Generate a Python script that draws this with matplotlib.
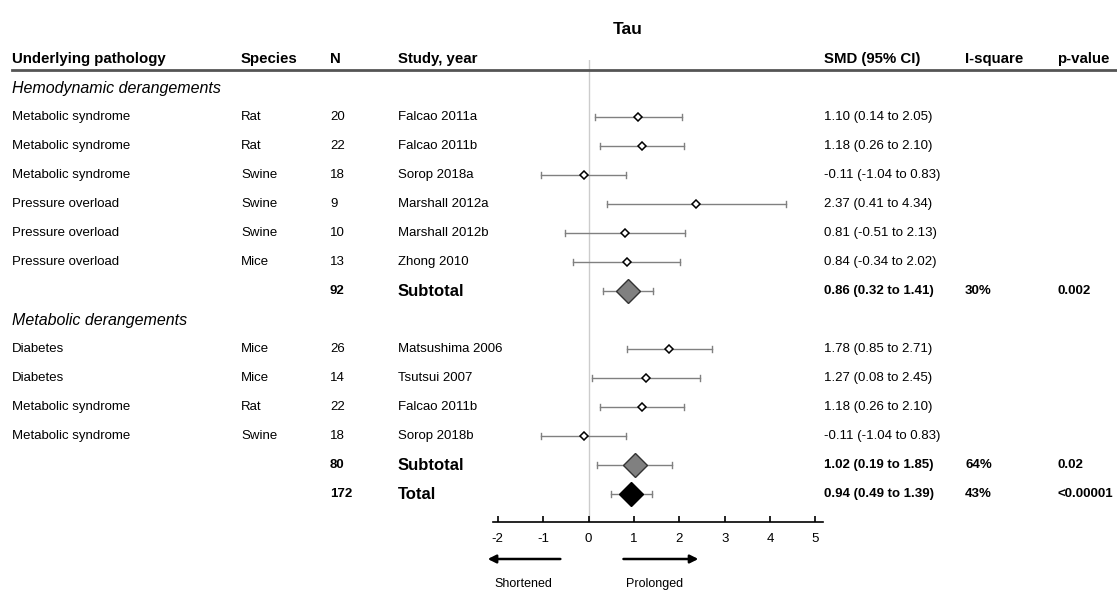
import matplotlib.pyplot as plt
import matplotlib.transforms as mtransforms

plt.rcParams['font.family'] = ['Liberation Sans', 'DejaVu Sans']
plt.rcParams['axes.unicode_minus'] = False

# study rows: pathology, species, N, study, SMD, lower, upper
groups = ['Hemodynamic derangements', 'Metabolic derangements']
pathology = [['Metabolic syndrome', 'Metabolic syndrome', 'Metabolic syndrome',
              'Pressure overload', 'Pressure overload', 'Pressure overload'],
             ['Diabetes', 'Diabetes', 'Metabolic syndrome', 'Metabolic syndrome']]
species = [['Rat', 'Rat', 'Swine', 'Swine', 'Swine', 'Mice'],
           ['Mice', 'Mice', 'Rat', 'Swine']]
n_animals = [[20, 22, 18, 9, 10, 13], [26, 14, 22, 18]]
studies = [['Falcao 2011a', 'Falcao 2011b', 'Sorop 2018a', 'Marshall 2012a',
            'Marshall 2012b', 'Zhong 2010'],
           ['Matsushima 2006', 'Tsutsui 2007', 'Falcao 2011b', 'Sorop 2018b']]
smd = [[1.10, 1.18, -0.11, 2.37, 0.81, 0.84], [1.78, 1.27, 1.18, -0.11]]
lower = [[0.14, 0.26, -1.04, 0.41, -0.51, -0.34], [0.85, 0.08, 0.26, -1.04]]
upper = [[2.05, 2.10, 0.83, 4.34, 2.13, 2.02], [2.71, 2.45, 2.10, 0.83]]

sub_n = [92, 80]
sub_smd = [0.86, 1.02]
sub_lo = [0.32, 0.19]
sub_hi = [1.41, 1.85]
sub_i2 = ['30%', '64%']
sub_p = ['0.002', '0.02']

tot_n = 172
tot_smd, tot_lo, tot_hi = 0.94, 0.49, 1.39
tot_i2, tot_p = '43%', '<0.00001'

W, H = 1117, 590
fig = plt.figure(figsize=(W / 100, H / 100), dpi=100)

# forest axes placed in pixel units
x0, x1 = 493, 823
y_top, y_bot = 60, 522
ax = fig.add_axes([x0 / W, 1 - y_bot / H, (x1 - x0) / W, (y_bot - y_top) / H])
px_per_unit = 45.4
zero_px = 588.5
ax.set_xlim((x0 - zero_px) / px_per_unit, (x1 - zero_px) / px_per_unit)
row0_px, row_step = 88, 29.0
ax.set_ylim((y_bot - row0_px) / row_step, (y_top - row0_px) / row_step)

for s in ['top', 'right', 'left']:
    ax.spines[s].set_visible(False)
ax.spines['bottom'].set_linewidth(1.2)
ax.set_yticks([])
ax.set_xticks(range(-2, 6))
ax.tick_params(axis='x', direction='in', length=4, width=1.2, labelsize=9.5, pad=8)
ax.axvline(0, color='#cccccc', lw=1, zorder=0)

trans = mtransforms.blended_transform_factory(fig.transFigure, ax.transData)
cols = {'path': 12 / W, 'spec': 241 / W, 'n': 330 / W, 'study': 398 / W,
        'smd': 824 / W, 'i2': 965 / W, 'p': 1057 / W}
body = 9.5

def txt(col, y, s, size=body, **kw):
    ax.text(cols[col], y, s, transform=trans, fontsize=size, va='center',
            ha='left', clip_on=False, **kw)

# header
hy = (59 - row0_px) / row_step
for c, s in [('path', 'Underlying pathology'), ('spec', 'Species'), ('n', 'N'),
             ('study', 'Study, year'), ('smd', 'SMD (95% CI)'),
             ('i2', 'I-square'), ('p', 'p-value')]:
    txt(c, hy, s, size=10.8, fontweight='bold')
hl = plt.Line2D([12 / W, 1.0], [1 - 70 / H, 1 - 70 / H], transform=fig.transFigure,
                color='#555555', lw=2)
fig.add_artist(hl)

fig.text(628 / W, 1 - 30 / H, 'Tau', fontsize=12.5, fontweight='bold',
         ha='center', va='center')

def whisker(y, lo, hi):
    ax.plot([lo, hi], [y, y], color='#808080', lw=1, zorder=1)
    ax.plot([lo, lo], [y - 0.12, y + 0.12], color='#808080', lw=1, zorder=1)
    ax.plot([hi, hi], [y - 0.12, y + 0.12], color='#808080', lw=1, zorder=1)

row = 0
for g in range(len(groups)):
    txt('path', row, groups[g], size=11.5, style='italic')
    row += 1
    for k in range(len(studies[g])):
        txt('path', row, pathology[g][k])
        txt('spec', row, species[g][k])
        txt('n', row, str(n_animals[g][k]))
        txt('study', row, studies[g][k])
        txt('smd', row, f'{smd[g][k]:.2f} ({lower[g][k]:.2f} to {upper[g][k]:.2f})')
        whisker(row, lower[g][k], upper[g][k])
        ax.plot(smd[g][k], row, marker='D', ms=4.3, mfc='white', mec='black',
                mew=1.1, zorder=3)
        row += 1
    txt('n', row, str(sub_n[g]), fontweight='bold')
    txt('study', row, 'Subtotal', size=12, fontweight='bold')
    txt('smd', row, f'{sub_smd[g]:.2f} ({sub_lo[g]:.2f} to {sub_hi[g]:.2f})',
        fontweight='bold')
    txt('i2', row, sub_i2[g], fontweight='bold')
    txt('p', row, sub_p[g], fontweight='bold')
    whisker(row, sub_lo[g], sub_hi[g])
    ax.plot(sub_smd[g], row, marker='D', ms=12, mfc='#808080', mec='#333333',
            mew=1, zorder=3)
    row += 1

txt('n', row, str(tot_n), fontweight='bold')
txt('study', row, 'Total', size=12, fontweight='bold')
txt('smd', row, f'{tot_smd:.2f} ({tot_lo:.2f} to {tot_hi:.2f})', fontweight='bold')
txt('i2', row, tot_i2, fontweight='bold')
txt('p', row, tot_p, fontweight='bold')
whisker(row, tot_lo, tot_hi)
ax.plot(tot_smd, row, marker='D', ms=12.5, mfc='black', mec='black', zorder=3)

# direction arrows
ytr = mtransforms.blended_transform_factory(ax.transData, fig.transFigure)
ay = 1 - 559 / H
ax.annotate('', xy=(-2.22, ay), xytext=(-0.62, ay), xycoords=ytr, textcoords=ytr,
            arrowprops=dict(arrowstyle='-|>', color='black', lw=1.8,
                            mutation_scale=12, shrinkA=0, shrinkB=0))
ax.annotate('', xy=(2.42, ay), xytext=(0.77, ay), xycoords=ytr, textcoords=ytr,
            arrowprops=dict(arrowstyle='-|>', color='black', lw=1.8,
                            mutation_scale=12, shrinkA=0, shrinkB=0))
fig.text(523 / W, 1 - 584 / H, 'Shortened', fontsize=9, ha='center', va='center')
fig.text(655 / W, 1 - 584 / H, 'Prolonged', fontsize=9, ha='center', va='center')

fig.savefig('out.png', dpi=100)
